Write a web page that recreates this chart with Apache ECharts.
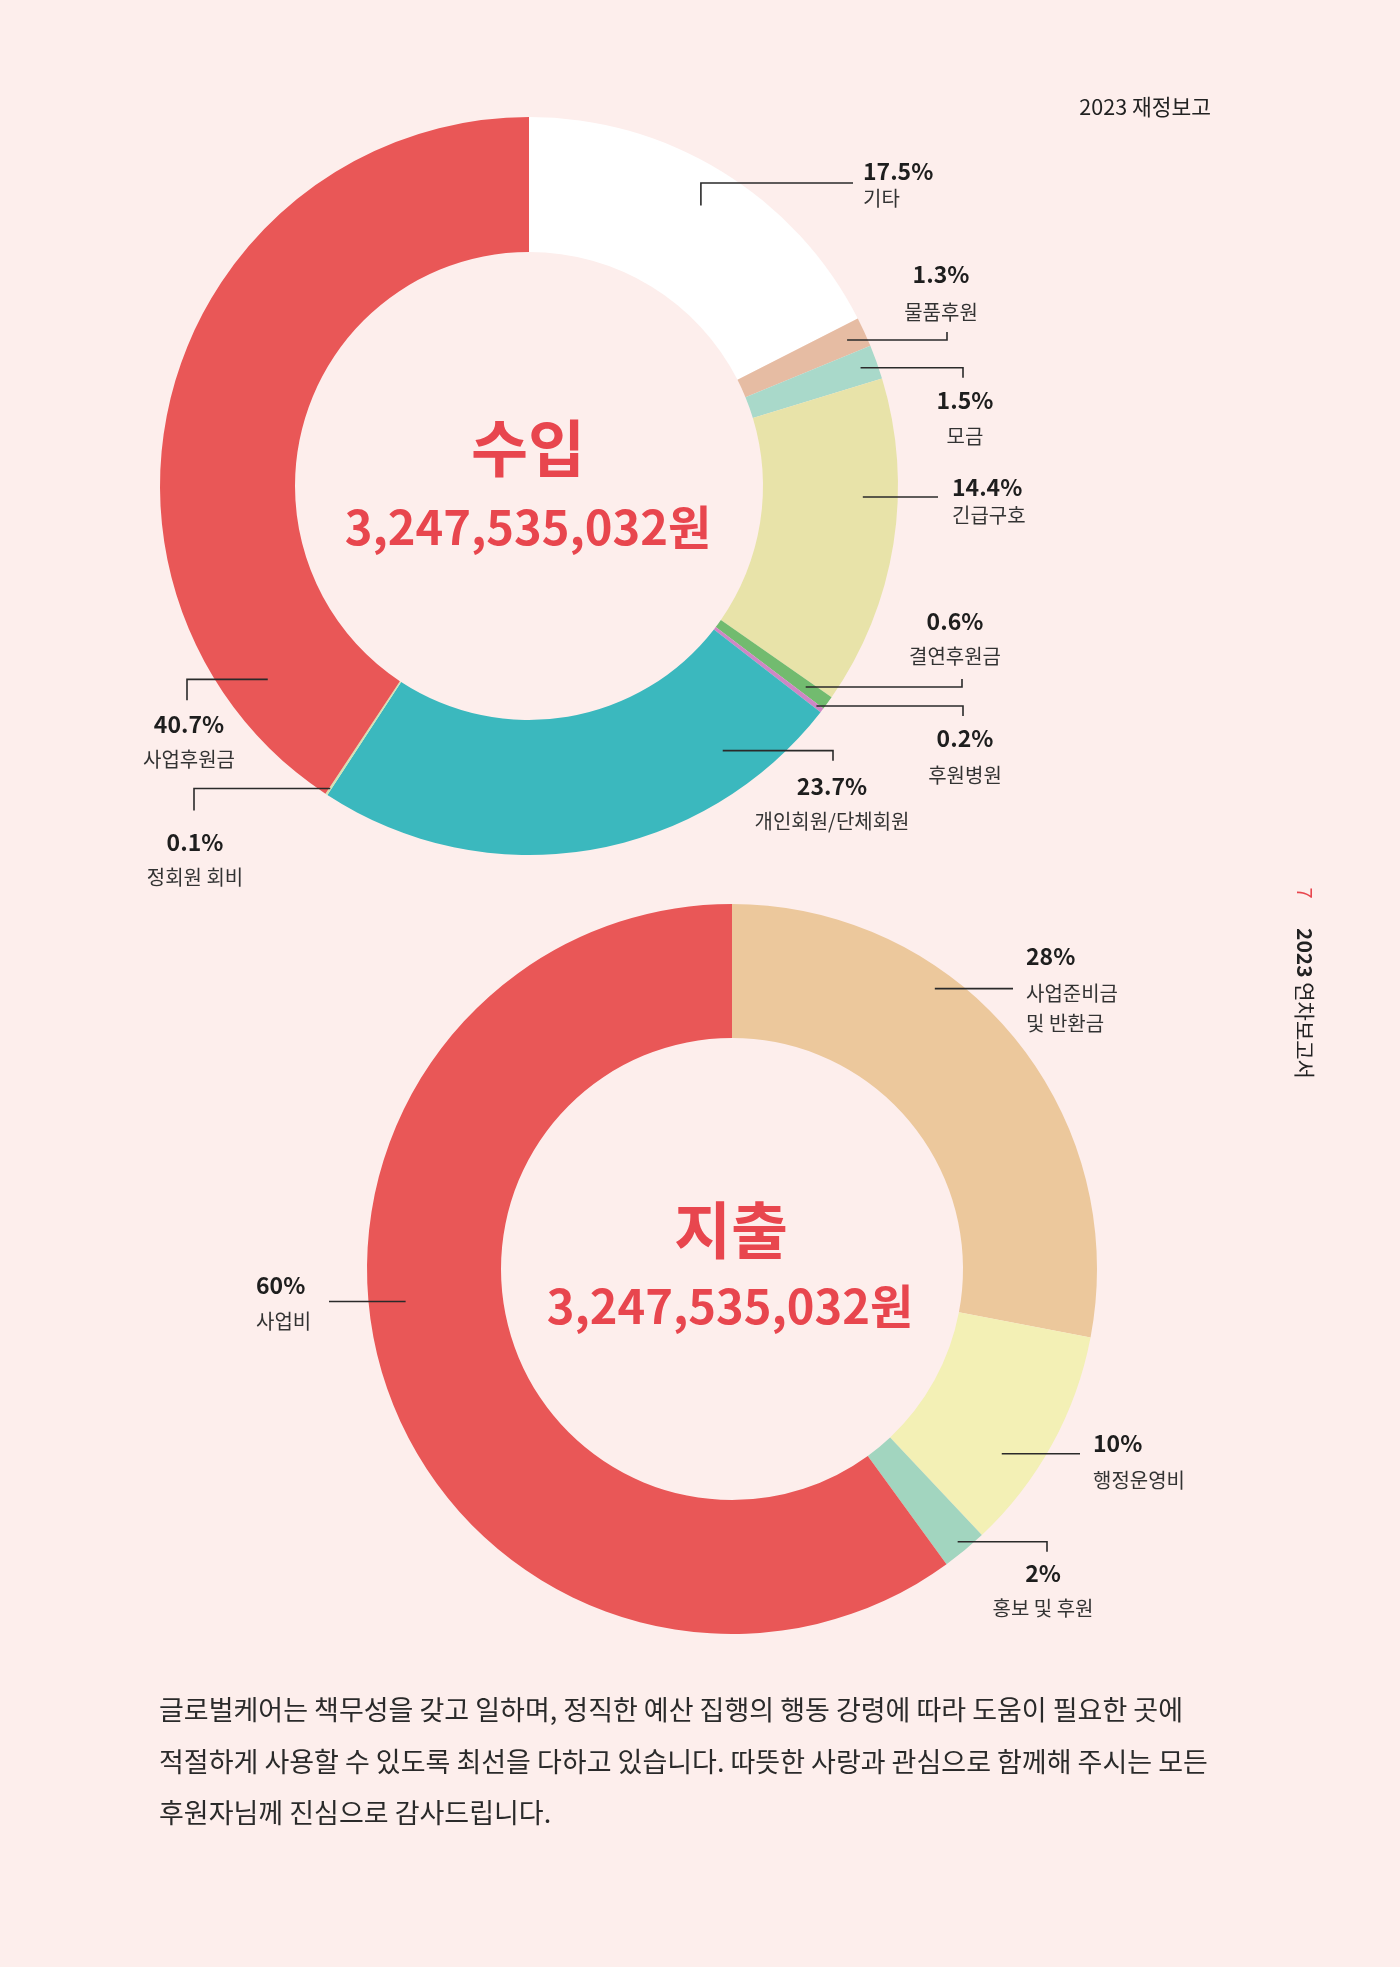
<!DOCTYPE html>
<html>
<head>
<meta charset="utf-8">
<script src="https://cdn.jsdelivr.net/npm/echarts@6/dist/echarts.min.js"></script>
<style>
  html, body { margin: 0; padding: 0; background: #fdeeec; }
  #main { width: 1400px; height: 1967px; }
</style>
</head>
<body>
<div id="main"></div>
<script>
// 수입 (income) donut
var incomeNames = ['기타', '물품후원', '모금', '긴급구호', '결연후원금', '후원병원', '개인회원/단체회원', '정회원 회비', '사업후원금'];
var incomeValues = [17.5, 1.3, 1.5, 14.4, 0.6, 0.2, 23.7, 0.1, 40.7];
var incomeColors = ['#ffffff', '#e6bca3', '#a9d9ca', '#e8e3a9', '#72bb6f', '#cf86c5', '#3bb8be', '#d2e3b4', '#e95757'];
var incomeTotal = '3,247,535,032원';

// 지출 (expense) donut
var expenseNames = ['사업준비금\n및 반환금', '행정운영비', '홍보 및 후원', '사업비'];
var expenseValues = [28, 10, 2, 60];
var expenseColors = ['#ecc89c', '#f3f0b5', '#a2d5bf', '#e95757'];
var expenseTotal = '3,247,535,032원';

var bodyText = '글로벌케어는 책무성을 갖고 일하며, 정직한 예산 집행의 행동 강령에 따라 도움이 필요한 곳에\n' +
  '적절하게 사용할 수 있도록 최선을 다하고 있습니다. 따뜻한 사랑과 관심으로 함께해 주시는 모든\n' +
  '후원자님께 진심으로 감사드립니다.';

var FONT = '"Noto Sans CJK KR", "Noto Sans", sans-serif';
var RED = '#e8464e';

// donut geometry (pixels)
var pies = [
  { cx: 529, cy: 486, r0: 234, r: 369 },
  { cx: 732, cy: 1269, r0: 231, r: 365 }
];

// leader line layout: f = position inside slice (0..1), r = radius of line start
var leaders = [[
  { f: .5, r: 329, kind: 'vh', y: 183, x: 853, lx: 10, pc: -12, gap: 27, al: 'left' },
  { f: .5, r: 350, kind: 'h', x: 947, t: -8, lx: -6, pc: -58, gap: 38, al: 'center' },
  { f: .5, r: 352, kind: 'h', x: 963, t: 10, lx: 2, pc: 22, gap: 37, al: 'center' },
  { f: .363, r: 334, kind: 'flat', x: 938, lx: 14, pc: -10, gap: 28, al: 'left' },
  { f: .5, r: 342, kind: 'h', x: 962, t: -8, lx: -7, pc: -58, gap: 35, al: 'center' },
  { f: .5, r: 362, kind: 'h', x: 963, t: 10, lx: 2, pc: 22, gap: 37, al: 'center' },
  { f: .1875, r: 328, kind: 'h', x: 833, t: 10, lx: -1, pc: 26, gap: 35, al: 'center' },
  { f: .5, r: 362, kind: 'h', x: 194, t: 22, lx: 1, pc: 32, gap: 35, al: 'center' },
  { f: .1366, r: 325, kind: 'h', x: 187, t: 21, lx: 2, pc: 24, gap: 35, al: 'center' }
], [
  { f: .356, r: 346, kind: 'flat', x: 1013, lx: 13, pc: -32, gap: 37, al: 'left' },
  { f: .656, r: 327, kind: 'flat', x: 1080, lx: 13, pc: -11, gap: 38, al: 'left' },
  { f: .5, r: 354, kind: 'h', x: 1047, t: 10, lx: -4, pc: 22, gap: 35, al: 'center' },
  { f: .557, r: 328, kind: 'flat', x: 329, lx: -73, pc: -16, gap: 36, al: 'left' }
]];

var seriesValues = [incomeValues, expenseValues];

function sliceRange(values, i) {
  var sum = 0, before = 0;
  values.forEach(function (v, k) { sum += v; if (k < i) before += v; });
  return [before / sum * 360, (before + values[i]) / sum * 360];
}

function polar(p, deg, r) {
  var a = deg * Math.PI / 180;
  return [p.cx + r * Math.sin(a), p.cy - r * Math.cos(a)];
}

function lineHeightFor(gap) { return 2 * (gap - 15); }

var rich = { n: { fontSize: 20, lineHeight: 30, color: '#333', fontFamily: FONT } };
leaders.forEach(function (list) {
  list.forEach(function (l) {
    var lh = lineHeightFor(l.gap);
    rich['p' + lh] = { fontSize: 23, fontWeight: 'bold', lineHeight: lh, color: '#1e1e1e', fontFamily: FONT };
  });
});

function buildData(names, values, colors) {
  return names.map(function (n, i) {
    return { name: n, value: values[i], itemStyle: { color: colors ? colors[i] : 'rgba(0,0,0,0)' } };
  });
}

function labelText(si) {
  return function (p) {
    var l = leaders[si][p.dataIndex];
    var lines = p.name.split('\n').map(function (s) { return '{n|' + s + '}'; });
    return '{p' + lineHeightFor(l.gap) + '|' + p.value + '%}\n' + lines.join('\n');
  };
}

function layoutFor(si, di) {
  var l = leaders[si][di], p = pies[si];
  var rg = sliceRange(seriesValues[si], di);
  var s = polar(p, rg[0] + (rg[1] - rg[0]) * l.f, l.r);
  var pts;
  if (l.kind === 'vh') {
    pts = [s, [s[0], l.y], [l.x, l.y]];
  } else if (l.kind === 'flat') {
    pts = [s, [(s[0] + l.x) / 2, s[1]], [l.x, s[1]]];
  } else {
    pts = [s, [l.x, s[1]], [l.x, s[1] + l.t]];
  }
  var end = pts[2];
  return {
    x: end[0] + l.lx,
    y: end[1] + l.pc - lineHeightFor(l.gap) / 2,
    align: l.al,
    verticalAlign: 'top',
    labelLinePoints: pts
  };
}

// ring of coloured sectors
function ringSeries(si, data) {
  var p = pies[si];
  return {
    type: 'pie',
    z: 2,
    center: [p.cx, p.cy],
    radius: [p.r0, p.r],
    startAngle: 90,
    clockwise: true,
    silent: true,
    itemStyle: { borderWidth: 0 },
    label: { show: false },
    labelLine: { show: false },
    emphasis: { disabled: true },
    data: data
  };
}

// same slices, transparent, carrying labels + leader lines on top
function labelSeries(si, data) {
  var p = pies[si];
  return {
    type: 'pie',
    z: 5,
    center: [p.cx, p.cy],
    radius: [p.r0, p.r],
    startAngle: 90,
    clockwise: true,
    avoidLabelOverlap: false,
    silent: true,
    itemStyle: { borderWidth: 0 },
    label: {
      show: true,
      position: 'outside',
      formatter: labelText(si),
      rich: rich
    },
    labelLine: { show: true, smooth: false, lineStyle: { color: '#2a2a2a', width: 1.6 } },
    labelLayout: function (params) { return layoutFor(si, params.dataIndex); },
    emphasis: { disabled: true },
    data: data
  };
}

var myChart = echarts.init(document.getElementById('main'));

var option = {
  backgroundColor: '#fdeeec',
  animation: false,
  textStyle: { fontFamily: FONT },
  series: [
    ringSeries(0, buildData(incomeNames, incomeValues, incomeColors)),
    ringSeries(1, buildData(expenseNames, expenseValues, expenseColors)),
    labelSeries(0, buildData(incomeNames, incomeValues)),
    labelSeries(1, buildData(expenseNames, expenseValues))
  ],
  graphic: [
    { type: 'text', x: 1211, y: 107, style: { text: '2023 재정보고', align: 'right', verticalAlign: 'middle', fontSize: 21.5, fontFamily: FONT, fill: '#222' } },
    { type: 'text', x: 1305, y: 893, rotation: -Math.PI / 2, style: { text: '7', align: 'center', verticalAlign: 'middle', fontSize: 20, fontFamily: FONT, fill: RED } },
    { type: 'text', x: 1305, y: 928, rotation: -Math.PI / 2,
      style: { text: '{b|2023} 연차보고서', align: 'left', verticalAlign: 'middle', fontSize: 21, fontFamily: FONT, fill: '#222',
        rich: { b: { fontSize: 21, fontWeight: 'bold', fontFamily: FONT, fill: '#222' } } } },
    { type: 'text', x: 528, y: 448, style: { text: '수입', align: 'center', verticalAlign: 'middle', fontSize: 62, fontWeight: 'bold', fontFamily: FONT, fill: RED } },
    { type: 'text', x: 528, y: 527, style: { text: incomeTotal, align: 'center', verticalAlign: 'middle', fontSize: 47, fontWeight: 'bold', fontFamily: FONT, fill: RED } },
    { type: 'text', x: 731, y: 1230, style: { text: '지출', align: 'center', verticalAlign: 'middle', fontSize: 62, fontWeight: 'bold', fontFamily: FONT, fill: RED } },
    { type: 'text', x: 730, y: 1306, style: { text: expenseTotal, align: 'center', verticalAlign: 'middle', fontSize: 47, fontWeight: 'bold', fontFamily: FONT, fill: RED } },
    { type: 'text', x: 159, y: 1684, style: { text: bodyText, align: 'left', verticalAlign: 'top', fontSize: 27, lineHeight: 51.5, fontFamily: FONT, fill: '#2a2a2a' } }
  ]
};
myChart.setOption(option);
</script>
</body>
</html>
